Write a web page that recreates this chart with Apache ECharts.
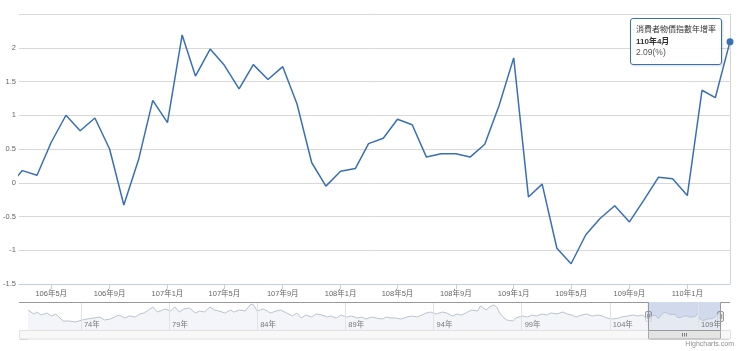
<!DOCTYPE html>
<html>
<head>
<meta charset="utf-8">
<title>消費者物價指數年增率</title>
<script src="https://cdn.jsdelivr.net/npm/echarts@6/dist/echarts.min.js"></script>
<style>
html, body { margin: 0; padding: 0; background: #fff; }
#chart { width: 740px; height: 351px; }
</style>
</head>
<body>
<div id="chart"></div>
<script>
var seriesName = '消費者物價指數年增率';
var unit = '(%)';

// 主圖：106年2月 ~ 110年4月，每月一筆
var cpiStart = '2017-02';
var cpiValues = [
    -0.05, 0.18, 0.11, 0.60, 1.00, 0.77, 0.96, 0.50, -0.33, 0.34, 1.22,
    0.89, 2.19, 1.58, 1.98, 1.74, 1.39, 1.75, 1.53, 1.72, 1.17, 0.30, -0.05,
    0.17, 0.21, 0.58, 0.66, 0.94, 0.86, 0.38, 0.43, 0.43, 0.38, 0.57, 1.14,
    1.85, -0.21, -0.02, -0.97, -1.20, -0.77, -0.53, -0.34, -0.58, -0.26, 0.08, 0.06,
    -0.19, 1.37, 1.26, 2.09
];

// 導覽列的早期資料（從縮圖估讀）
var navMonths = [
    '1982-01','1982-05','1982-07','1982-10','1983-02','1983-05','1983-08','1983-10',
    '1984-01','1984-05','1984-09','1985-02','1985-05','1985-10','1986-02','1986-05',
    '1986-09','1986-12','1987-03','1987-07','1987-10','1988-02','1988-05','1988-08',
    '1988-11','1989-02','1989-05','1989-07','1989-10','1990-02','1990-05','1990-08',
    '1990-11','1991-03','1991-07','1991-10','1992-01','1992-05','1992-08','1992-11',
    '1993-03','1993-07','1993-09','1994-01','1994-05','1994-08','1994-10','1995-01',
    '1995-05','1995-08','1995-10','1996-02','1996-05','1996-09','1997-01','1997-04',
    '1997-07','1997-10','1998-02','1998-05','1998-09','1999-01','1999-03','1999-07',
    '1999-10','2000-02','2000-05','2000-09','2000-12','2001-03','2001-07','2001-10',
    '2002-02','2002-05','2002-08','2002-11','2003-03','2003-07','2003-10','2004-02',
    '2004-05','2004-08','2004-11','2005-03','2005-07','2005-10','2006-02','2006-05',
    '2006-08','2006-11','2007-03','2007-07','2007-09','2008-01','2008-03','2008-06',
    '2008-08','2008-10','2009-01','2009-03','2009-07','2009-09','2010-01','2010-05',
    '2010-08','2010-11','2011-03','2011-06','2011-09','2012-01','2012-05','2012-08',
    '2012-11','2013-02','2013-06','2013-09','2014-01','2014-05','2014-08','2014-11',
    '2015-03','2015-07','2015-09','2016-01','2016-05','2016-08','2016-11'
];
var navValues = [
    3.2, 1.6, 2.4, 1.2, 2.0, 0.8, 1.6, 0.4,
    -1.2, -1.2, -1.6, -0.8, -0.4, 0, 0.4, -0.8,
    -0.4, 0.4, 1.2, 0, 0.8, 0.4, 1.6, 2.0,
    3.2, 4.4, 2.4, 2.8, 3.6, 2.8, 4.4, 2.4,
    3.6, 4.0, 2.0, 2.8, 2.4, 4.4, 3.2, 2.8,
    2.0, 3.2, 2.4, 3.2, 2.8, 5.2, 5.6, 2.8,
    3.6, 2.8, 2.0, 2.8, 3.2, 2.0, 0.8, 2.0,
    0, 1.2, 0.4, 1.6, 1.2, 0.4, 0.8, 0,
    1.2, 0.4, 0.8, 0, 0.4, -0.4, 0.4, 0,
    -0.4, 0.4, 0, 0, -0.4, 0.4, 0.8, 0.4,
    1.2, 2.0, 2.4, 1.6, 2.4, 2.0, 0.8, 1.6,
    1.2, 2.0, 3.2, 2.8, 4.8, 3.2, 4.4, 5.2,
    4.4, 2.0, 0, -0.8, -1.2, 0, 0.8, 0.4,
    1.2, 0.8, 1.6, 1.2, 2.0, 1.6, 2.4, 1.6,
    1.2, 0.4, 1.2, 1.6, 0.8, 1.2, 0.8, 0,
    -0.4, 0, 0.4, 0.8, 1.2, 0.8, 1.2
];

var xTickMonths = ['2017-05','2017-09','2018-01','2018-05','2018-09','2019-01',
                   '2019-05','2019-09','2020-01','2020-05','2020-09','2021-01'];
var xTickLabels = ['106年5月','106年9月','107年1月','107年5月','107年9月','108年1月',
                   '108年5月','108年9月','109年1月','109年5月','109年9月','110年1月'];
var navTickMonths = ['1985-01','1990-01','1995-01','2000-01','2005-01','2010-01','2015-01','2020-01'];
var navTickLabels = ['74年','79年','84年','89年','94年','99年','104年','109年'];

var viewStart = '2017-02-22';   // 主圖左邊界
var navMin = -4.8, navMax = 6.4;

var lineColor = '#3870b5';
var font = "'Liberation Sans', 'Noto Sans CJK TC', sans-serif";

function toTime(s) {
    var p = s.split('-');
    return Date.UTC(+p[0], +p[1] - 1, p[2] ? +p[2] : 1);
}
function addMonths(s, n) {
    var p = s.split('-');
    var m = (+p[0]) * 12 + (+p[1] - 1) + n;
    var mm = m % 12 + 1;
    return Math.floor(m / 12) + '-' + (mm < 10 ? '0' + mm : mm);
}
function labelFor(times, labels) {
    return function (v) {
        var i = times.indexOf(v);
        return i >= 0 ? labels[i] : '';
    };
}

var cpiMonths = cpiValues.map(function (v, i) { return addMonths(cpiStart, i); });
var lastIdx = cpiValues.length - 1;
var lastTime = toTime(cpiMonths[lastIdx]);
var startTime = toTime(viewStart);
var xTickTimes = xTickMonths.map(toTime);
var navTickTimes = navTickMonths.map(toTime);

var mainData = cpiValues.map(function (v, i) {
    var d = [toTime(cpiMonths[i]), v];
    if (i === lastIdx) {
        return { value: d, symbol: 'circle', symbolSize: 7 };
    }
    return d;
});
var navData = navValues.map(function (v, i) {
    return [toTime(navMonths[i]), v];
}).concat(cpiValues.map(function (v, i) {
    return [toTime(cpiMonths[i]), v];
}));

var chart = echarts.init(document.getElementById('chart'));
chart.setOption({
    animation: false,
    textStyle: { fontFamily: font },
    grid: [
        { left: 19, right: 10, top: 14, bottom: 67 },
        { left: 28, right: 20, top: 302, bottom: 21 }
    ],
    tooltip: {
        trigger: 'item',
        triggerOn: 'none',
        alwaysShowContent: true,
        transitionDuration: 0,
        position: [630, 18],
        backgroundColor: 'rgba(255,255,255,0.9)',
        borderColor: lineColor,
        borderWidth: 1,
        borderRadius: 3,
        padding: [5, 5],
        extraCssText: 'box-shadow:1px 1px 2px rgba(0,0,0,0.15);',
        formatter: function (p) {
            var m = cpiMonths[p.dataIndex].split('-');
            var roc = (+m[0] - 1911) + '年' + (+m[1]) + '月';
            return '<div style="font-family:' + font.replace(/'/g, '') + ';font-size:8px;line-height:11.5px;color:#333">' +
                p.seriesName + '<br><b>' + roc + '</b><br>' +
                '<span style="color:#555;font-size:8.5px">' + p.value[1].toFixed(2) + unit + '</span></div>';
        }
    },
    xAxis: [
        {
            type: 'value',
            gridIndex: 0,
            min: startTime,
            max: lastTime,
            axisLine: { onZero: false, lineStyle: { color: '#c0d0e0' } },
            axisTick: { customValues: xTickTimes, length: 5, lineStyle: { color: '#c0d0e0' } },
            axisLabel: {
                customValues: xTickTimes,
                margin: 6,
                fontSize: 7.5,
                color: '#666',
                formatter: labelFor(xTickTimes, xTickLabels)
            },
            splitLine: { show: false }
        },
        {
            type: 'value',
            gridIndex: 1,
            z: 5,
            min: toTime(navMonths[0]),
            max: lastTime,
            axisLine: { show: false, onZero: false },
            axisTick: { show: false },
            axisLabel: {
                customValues: navTickTimes,
                inside: true,
                margin: 1,
                align: 'left',
                padding: [0, 0, 0, 3],
                fontSize: 7.5,
                color: '#777',
                formatter: labelFor(navTickTimes, navTickLabels)
            },
            splitLine: { show: false }
        }
    ],
    yAxis: [
        {
            type: 'value',
            gridIndex: 0,
            min: -1.5,
            max: 2.5,
            interval: 0.5,
            axisLine: { show: false },
            axisTick: { show: false },
            axisLabel: {
                showMaxLabel: false,
                margin: 3,
                fontSize: 7.5,
                color: '#666',
                padding: [0, 0, 8, 0]
            },
            splitLine: { lineStyle: { color: '#d8d8d8', width: 1 } }
        },
        {
            type: 'value',
            gridIndex: 0,
            position: 'right',
            min: -1.5,
            max: 2.5,
            axisLine: { show: true, lineStyle: { color: '#d4d4d4' } },
            axisTick: { show: false },
            axisLabel: { show: false },
            splitLine: { show: false }
        },
        {
            type: 'value',
            gridIndex: 1,
            min: navMin,
            max: navMax,
            show: false
        }
    ],
    series: [
        {
            name: seriesName,
            type: 'line',
            xAxisIndex: 0,
            yAxisIndex: 0,
            data: mainData,
            symbol: 'none',
            showSymbol: true,
            clip: true,
            lineStyle: { color: lineColor, width: 1.5 },
            itemStyle: { color: lineColor },
            emphasis: { disabled: true }
        },
        {
            name: 'navigator',
            type: 'line',
            xAxisIndex: 1,
            yAxisIndex: 2,
            data: navData,
            symbol: 'none',
            silent: true,
            lineStyle: { color: '#b9c3cf', width: 1 },
            areaStyle: { color: '#eef1f5', origin: 'start' },
            markLine: {
                silent: true,
                symbol: ['none', 'none'],
                label: { show: false },
                lineStyle: { color: '#e2e2e2', width: 1, type: 'solid' },
                data: navTickTimes.map(function (t) { return { xAxis: t }; })
            },
            markArea: {
                silent: true,
                itemStyle: { color: 'rgba(102,133,194,0.3)' },
                data: [[{ xAxis: startTime }, { xAxis: lastTime }]]
            }
        }
    ]
});

chart.dispatchAction({ type: 'showTip', seriesIndex: 0, dataIndex: lastIdx });

// 導覽列外框、把手、捲軸
var plotL = Math.round(chart.convertToPixel({ xAxisIndex: 0 }, startTime));
var plotR = Math.round(chart.convertToPixel({ xAxisIndex: 0 }, lastTime));
var xl = Math.round(chart.convertToPixel({ xAxisIndex: 1 }, startTime)) + 0.5;
var xr = Math.round(chart.convertToPixel({ xAxisIndex: 1 }, lastTime)) + 0.5;
var navTop = Math.round(chart.convertToPixel({ yAxisIndex: 2 }, navMax)) + 0.5;
var navBottom = Math.round(chart.convertToPixel({ yAxisIndex: 2 }, navMin)) + 0.5;
var handleY = (navTop + navBottom) / 2;
var sbH = 8.5;

function handle(x) {
    return {
        type: 'group',
        z: 20,
        children: [
            { type: 'rect', shape: { x: x - 3, y: handleY - 5, width: 6, height: 10, r: 1.5 },
              style: { fill: '#f2f2f2', stroke: '#999', lineWidth: 1 } },
            { type: 'line', shape: { x1: x - 0.8, y1: handleY - 2.5, x2: x - 0.8, y2: handleY + 2.5 },
              style: { stroke: '#777', lineWidth: 0.8 } },
            { type: 'line', shape: { x1: x + 1.2, y1: handleY - 2.5, x2: x + 1.2, y2: handleY + 2.5 },
              style: { stroke: '#777', lineWidth: 0.8 } }
        ]
    };
}
function button(x, dir) {
    var cx = x + 4.5, cy = navBottom + sbH / 2;
    return {
        type: 'group',
        z: 15,
        children: [
            { type: 'rect', shape: { x: x + 0.5, y: navBottom, width: 9, height: sbH, r: 1 },
              style: { fill: '#ebebeb', stroke: '#999', lineWidth: 1 } },
            { type: 'polygon', shape: { points: [[cx + 1.5 * dir, cy - 2], [cx + 1.5 * dir, cy + 2], [cx - 1.5 * dir, cy]] },
              style: { fill: '#555' } }
        ]
    };
}

var mid = (xl + xr) / 2;
chart.setOption({
    graphic: [
        { type: 'rect', z: 10, shape: { x: plotL + 0.5, y: navBottom, width: plotR - plotL, height: sbH },
          style: { fill: '#f8f8f8', stroke: '#e2e2e2', lineWidth: 1 } },
        { type: 'rect', z: 11, shape: { x: xl, y: navBottom, width: xr - xl, height: sbH, r: 1 },
          style: { fill: '#e4e4e4', stroke: '#aaa', lineWidth: 1 } },
        { type: 'line', z: 12, shape: { x1: mid - 2, y1: navBottom + 2.5, x2: mid - 2, y2: navBottom + 6 }, style: { stroke: '#666', lineWidth: 0.8 } },
        { type: 'line', z: 12, shape: { x1: mid, y1: navBottom + 2.5, x2: mid, y2: navBottom + 6 }, style: { stroke: '#666', lineWidth: 0.8 } },
        { type: 'line', z: 12, shape: { x1: mid + 2, y1: navBottom + 2.5, x2: mid + 2, y2: navBottom + 6 }, style: { stroke: '#666', lineWidth: 0.8 } },
        button(plotL, -1),
        button(plotR - 10, 1),
        { type: 'polyline', z: 13,
          shape: { points: [[plotL, navTop], [xl, navTop], [xl, navBottom], [xr, navBottom], [xr, navTop], [plotR, navTop]] },
          style: { stroke: '#999', lineWidth: 1, fill: null } },
        handle(xl),
        handle(xr),
        { type: 'text', z: 20, right: 6, bottom: 3,
          style: { text: 'Highcharts.com', fontSize: 7, fill: '#909090', fontFamily: font } }
    ]
});
</script>
</body>
</html>
